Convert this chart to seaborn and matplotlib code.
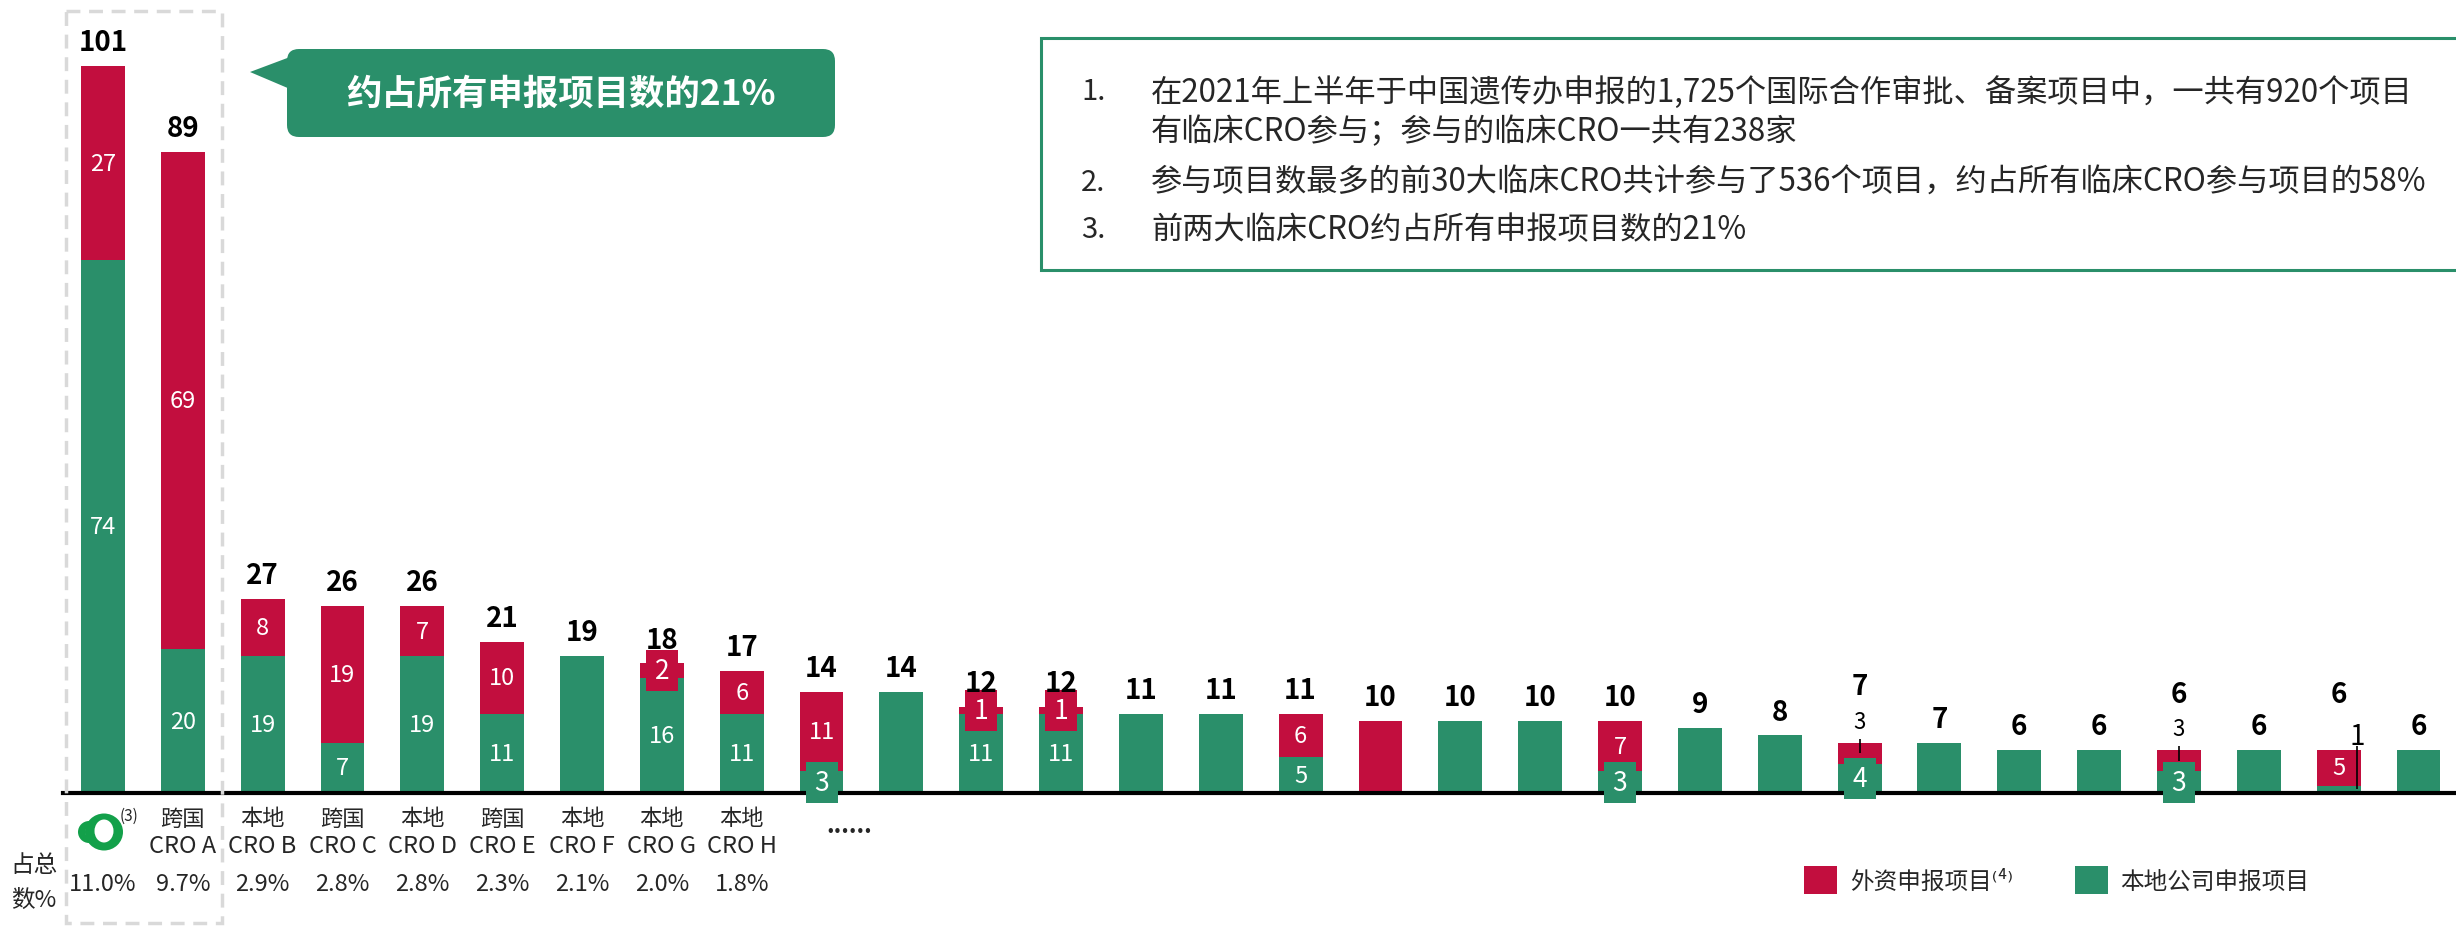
import numpy as np
import pandas as pd
import seaborn as sns
import matplotlib
matplotlib.use("Agg")
import matplotlib.pyplot as plt
from matplotlib.patches import Patch, Rectangle, FancyBboxPatch, Polygon, Ellipse
from matplotlib.transforms import blended_transform_factory

# ---------------- data ----------------
foreign = [27, 69, 8, 19, 7, 10, 0, 2, 6, 11, 0, 1, 1, 0, 0, 6, 10, 0, 0, 7,
           0, 0, 3, 0, 0, 0, 3, 0, 5, 0]
local = [74, 20, 19, 7, 19, 11, 19, 16, 11, 3, 14, 11, 11, 11, 11, 5, 0, 10, 10, 3,
         9, 8, 4, 7, 6, 6, 3, 6, 1, 6]
cat_type = ["", "跨国", "本地", "跨国", "本地", "跨国", "本地", "本地", "本地"]
cat_name = ["", "CRO A", "CRO B", "CRO C", "CRO D", "CRO E", "CRO F", "CRO G", "CRO H"]
share = ["11.0%", "9.7%", "2.9%", "2.8%", "2.8%", "2.3%", "2.1%", "2.0%", "1.8%"]
share_title = ["占总", "数%"]
note_nums = ["1.", "", "2.", "3."]
note_lines = [
    "在2021年上半年于中国遗传办申报的1,725个国际合作审批、备案项目中，一共有920个项目",
    "有临床CRO参与；参与的临床CRO一共有238家",
    "参与项目数最多的前30大临床CRO共计参与了536个项目，约占所有临床CRO参与项目的58%",
    "前两大临床CRO约占所有申报项目数的21%",
]
callout_text = "约占所有申报项目数的21%"
legend_labels = ["外资申报项目⁽⁴⁾", "本地公司申报项目"]
# labels drawn above the bar with a leader line: (bar index, segment)
leader_labels = [(22, "foreign"), (26, "foreign"), (28, "local")]

total = [f + l for f, l in zip(foreign, local)]
n = len(total)

# ---------------- style ----------------
RED = "#C20E3E"
GREEN = "#2A8F6A"
W, H = 2456, 929
CJK = "Noto Sans CJK SC"
NUM = "Liberation Sans Narrow"
MIX = [NUM, CJK, "DejaVu Sans"]

sns.set_theme(style="white")
plt.rcParams["font.family"] = [CJK, "DejaVu Sans"]

fig = plt.figure(figsize=(W / 100, H / 100), dpi=100)
fig.patch.set_facecolor("white")
ax = fig.add_axes([63 / W, 135 / H, (W - 63) / W, 794 / H])

df = pd.DataFrame({"rank": np.arange(n), "total": total, "local": local})
sns.barplot(data=df, x="rank", y="total", color=RED, saturation=1, width=0.55,
            errorbar=None, linewidth=0, ax=ax)
sns.barplot(data=df, x="rank", y="local", color=GREEN, saturation=1, width=0.55,
            errorbar=None, linewidth=0, ax=ax)

ax.set_xlim(-0.5, 29.47)
ax.set_ylim(0, 110.28)
for s in ["top", "right", "left"]:
    ax.spines[s].set_visible(False)
ax.spines["bottom"].set_color("black")
ax.spines["bottom"].set_linewidth(3)
ax.spines["bottom"].set_zorder(3)
ax.set_xticks([])
ax.set_yticks([])
ax.set_xlabel("")
ax.set_ylabel("")
ax.set_facecolor("none")

leader_set = set(leader_labels)
for i in range(n):
    has_leader = any(k[0] == i for k in leader_labels)
    ty = total[i] + (7.8 if has_leader else 3.3)
    ax.text(i, ty, str(total[i]), ha="center", va="center", fontsize=20,
            fontweight="bold", family=MIX, color="black", zorder=6)
    if foreign[i] == 0 or local[i] == 0:
        continue
    segs = [("local", 0, local[i], GREEN), ("foreign", local[i], total[i], RED)]
    for name, y0, y1, col in segs:
        v = y1 - y0
        yc = (y0 + y1) / 2
        if (i, name) in leader_set:
            if name == "local":
                dx, ly, fs = 0.23, total[i] + 1.9, 20
            else:
                dx, ly, fs = 0.0, total[i] + 3.0, 16
            ax.text(i + dx, ly, str(v), ha="center", va="center", fontsize=fs,
                    family=MIX, color="black", zorder=6)
            ax.plot([i + dx, i + dx], [total[i] + 0.5, yc], color="black", lw=1.2,
                    zorder=6, solid_capstyle="butt")
        elif v <= 4:
            ax.add_patch(Rectangle((i - 0.2, yc - 2.85), 0.4, 5.7, facecolor=col,
                                   edgecolor="none", zorder=5, clip_on=False))
            ax.text(i, yc, str(v), ha="center", va="center", fontsize=19,
                    family=MIX, color="white", zorder=6)
        else:
            ax.text(i, yc, str(v), ha="center", va="center", fontsize=17,
                    family=MIX, color="white", zorder=6)

# ---------------- overlay in pixel coordinates ----------------
ov = fig.add_axes([0, 0, 1, 1], zorder=10)
ov.set_xlim(0, W)
ov.set_ylim(H, 0)
ov.axis("off")
ov.patch.set_alpha(0)

tr = blended_transform_factory(ax.transData, ov.transData)
for i in range(len(cat_type)):
    if cat_type[i]:
        ov.text(i, 819, cat_type[i], transform=tr, ha="center", va="center",
                fontsize=16, family=MIX)
        ov.text(i, 847, cat_name[i], transform=tr, ha="center", va="center",
                fontsize=17, family=MIX)
    ov.text(i, 885, share[i], transform=tr, ha="center", va="center",
            fontsize=17, family=MIX)
ov.text(34, 866, share_title[0], ha="center", va="center", fontsize=17, family=MIX)
ov.text(34, 900, share_title[1], ha="center", va="center", fontsize=17, family=MIX)
ov.text(9.35, 826, "......", transform=tr, ha="center", va="center", fontsize=17,
        fontweight="bold", family=MIX)
ov.text(0.33, 816, "(3)", transform=tr, ha="center", va="center", fontsize=11,
        family=MIX)

# dashed highlight box around the top two
ov.add_patch(Rectangle((66, 12), 156, 912, facecolor="none", edgecolor="#D9D9D9",
                       lw=2.5, linestyle=(0, (4, 2.5))))

# callout
ov.add_patch(FancyBboxPatch((287, 50), 548, 88, boxstyle="round,pad=0,rounding_size=12",
                            facecolor=GREEN, edgecolor="none"))
ov.add_patch(Polygon([(250, 73), (290, 58), (290, 90)], closed=True,
                     facecolor=GREEN, edgecolor="none"))
ov.text(561, 94, callout_text, ha="center", va="center", fontsize=25.5,
        fontweight="bold", color="white", family=MIX)

# notes box
ov.add_patch(Rectangle((1041, 39), 1430, 232, facecolor="white", edgecolor=GREEN,
                       lw=2.2, clip_on=False))
note_y = [92, 132, 183, 230]
for num, line, y in zip(note_nums, note_lines, note_y):
    if num:
        ov.text(1081, y, num, ha="left", va="center", fontsize=21, family=MIX)
    ov.text(1151, y, line, ha="left", va="center", fontsize=22.5, family=MIX)

# legend
handles = [Patch(facecolor=RED, edgecolor="none"), Patch(facecolor=GREEN, edgecolor="none")]
fig.legend(handles, legend_labels, loc="center left",
           bbox_to_anchor=(1804 / W, (H - 881) / H), ncol=2, frameon=False,
           handlelength=1.4, handleheight=1.4, handletextpad=0.55,
           columnspacing=2.6, borderpad=0, borderaxespad=0,
           prop={"family": MIX, "size": 17})

# logo for the first CRO
lg = fig.add_axes([75 / W, (H - 858) / H, 50 / W, 50 / H])
lg.set_xlim(-25, 25)
lg.set_ylim(-25, 25)
lg.axis("off")
LOGO = "#13A04A"
lg.add_patch(Ellipse((-11, 0), 22, 22, facecolor=LOGO, edgecolor="none"))
lg.add_patch(Ellipse((-9, 0), 11, 17, facecolor="white", edgecolor="none"))
lg.add_patch(Ellipse((4, 0), 38, 37, facecolor=LOGO, edgecolor="none"))
lg.add_patch(Ellipse((4, 1), 19, 23, facecolor="white", edgecolor="none"))

fig.savefig("out.png", dpi=100, facecolor="white")
